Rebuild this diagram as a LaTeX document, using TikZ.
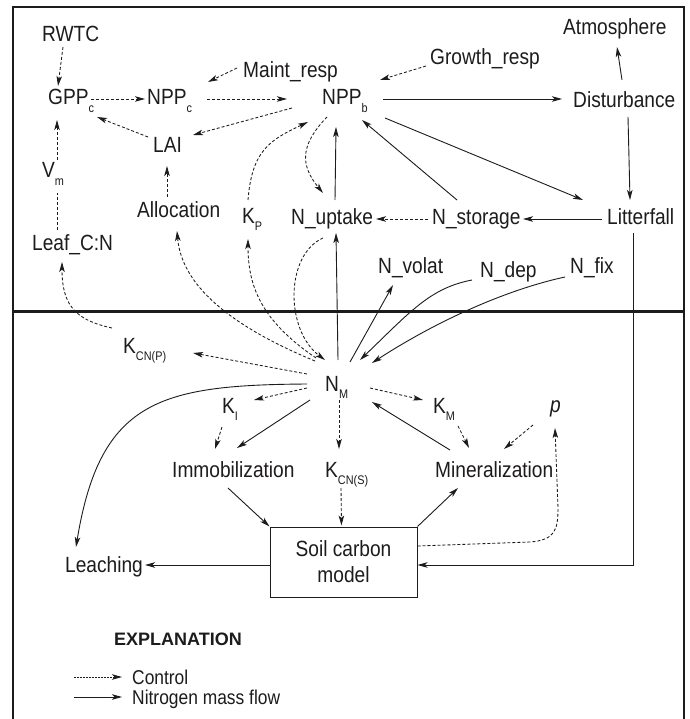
\documentclass[tikz,border=0pt]{standalone}
\usepackage{fontspec}
\setmainfont{Liberation Sans}[FakeStretch=0.87]
\newfontfamily\explfont{Liberation Sans}
\usetikzlibrary{arrows.meta,calc}
\definecolor{ink}{RGB}{30,27,28}
\newcommand{\sbs}[1]{\raisebox{-7.5pt}{\fontsize{12.5}{12.5}\selectfont #1}}
\begin{document}
\begin{tikzpicture}[x=1pt,y=-1pt,
  lbl/.style={anchor=base west,inner sep=0pt,text=ink,font=\fontsize{22}{25}\selectfont},
  flow/.style={color=ink,line width=0.9pt,-{Stealth[length=10pt,width=5.5pt,inset=2.5pt]}},
  ctl/.style={color=ink,line width=0.85pt,dash pattern=on 3pt off 2pt,-{Stealth[length=10pt,width=5.5pt,inset=2.5pt]}},
  ctlline/.style={color=ink,line width=0.85pt,dash pattern=on 3pt off 2pt},
]
\fill[white] (0,0) rectangle (689,719);
\useasboundingbox (0,0) rectangle (689,719);
% frame and ground line
\draw[ink,line width=1.3pt] (13,730) -- (13,7) -- (684,7) -- (684,730);
\draw[ink,line width=3pt] (13,311) -- (684,311);

% nodes
\node[lbl] (rwtc) at (42,42) {RWTC};
\node[lbl] (gppc) at (48,105) {GPP\sbs{c}};
\node[lbl] (nppc) at (147,105) {NPP\sbs{c}};
\node[lbl] (maint) at (243,78) {Maint\_resp};
\node[lbl] (nppb) at (322,105) {NPP\sbs{b}};
\node[lbl] (growth) at (430,65) {Growth\_resp};
\node[lbl] (atm) at (563,35) {Atmosphere};
\node[lbl] (dist) at (573,108) {Disturbance};
\node[lbl] (lai) at (153,153) {LAI};
\node[lbl] (vm) at (42,178) {V\sbs{m}};
\node[lbl] (alloc) at (137,218) {Allocation};
\node[lbl] (kp) at (242,223) {K\sbs{P}};
\node[lbl] (nup) at (291,225) {N\_uptake};
\node[lbl] (nsto) at (432,225) {N\_storage};
\node[lbl] (litter) at (607,225) {Litterfall};
\node[lbl] (leafcn) at (32,250) {Leaf\_C:N};
\node[lbl] (nvolat) at (378,273) {N\_volat};
\node[lbl] (ndep) at (480,277) {N\_dep};
\node[lbl] (nfix) at (570,273) {N\_fix};
\node[lbl] (kcnp) at (123,353) {K\sbs{CN(P)}};
\node[lbl] (nm) at (325,391) {N\sbs{M}};
\node[lbl] (ki) at (222,413) {K\sbs{I}};
\node[lbl] (km) at (433,413) {K\sbs{M}};
\node[lbl] (pp) at (550,412) {\itshape p};
\node[lbl] (immob) at (172,477) {Immobilization};
\node[lbl] (kcns) at (325,477) {K\sbs{CN(S)}};
\node[lbl] (mineral) at (435,477) {Mineralization};
\node[draw=ink,line width=1pt,minimum width=147pt,minimum height=70pt,inner sep=0pt,align=center,text=ink,font=\fontsize{22}{26}\selectfont] (soil) at (343.5,562) {Soil carbon\\model};
\node[lbl] (leach) at (65,572) {Leaching};

% control connectors
\draw[ctl] ($(rwtc.base west)+(21,5)$) -- ($(gppc.base west)+(10,-19)$);
\draw[ctl] ($(gppc.base west)+(43,-6)$) -- ($(nppc.base west)+(-2,-6)$);
\draw[ctl] ($(nppc.base west)+(60,-6)$) -- ($(nppb.base west)+(-35,-6)$);
\draw[ctl] ($(maint.base west)+(-6,-10)$) -- ($(nppc.base west)+(61,-23)$);
\draw[ctl] ($(nppb.base west)+(-30,3)$) -- ($(lai.base west)+(40,-18)$);
\draw[ctl] ($(lai.base west)+(-5,-16)$) -- ($(gppc.base west)+(49,12)$);
\draw[ctlline] ($(leafcn.base west)+(25,-20)$) -- ($(vm.base west)+(15,15)$);
\draw[ctl] ($(vm.base west)+(15,-18)$) -- ($(gppc.base west)+(9,15)$);
\draw[ctl] ($(alloc.base west)+(30,-21)$) -- ($(lai.base west)+(14,13)$);
\draw[ctl] ($(kp.base west)+(6,-23)$) .. controls (252,150) and (270,140) .. ($(nppb.base west)+(-14,17)$);
\draw[ctl] ($(nppb.base west)+(5,12)$) .. controls (300,145) and (300,165) .. ($(nup.base west)+(32,-32)$);
\draw[ctl] ($(nsto.base west)+(-4,-6)$) -- ($(nup.base west)+(85,-6)$);
\draw[ctl] ($(nm.base west)+(-10,-30)$) .. controls (240,330) and (182,290) .. ($(alloc.base west)+(40,13)$);
\draw[ctl] ($(nm.base west)+(-9,-33)$) .. controls (260,320) and (248,285) .. ($(kp.base west)+(6,16)$);
\draw[ctl] ($(nup.base west)+(32,13)$) .. controls (285,255) and (285,330) .. ($(nm.base west)+(0,-31)$);
\draw[ctl] ($(nm.base west)+(-18,-17)$) -- ($(kcnp.base west)+(70,0)$);
\draw[ctl] ($(kcnp.base west)+(-11,-25)$) .. controls (75,320) and (62,305) .. ($(leafcn.base west)+(30,12)$);
\draw[ctl] ($(nm.base west)+(-18,-3)$) -- ($(ki.base west)+(32,-13)$);
\draw[ctl] ($(ki.base west)+(0,14)$) -- ($(immob.base west)+(43,-28)$);
\draw[ctl] ($(nm.base west)+(14,9)$) -- ($(kcns.base west)+(14,-28)$);
\draw[ctl] ($(kcns.base west)+(16,11)$) -- ($(soil.north)+(-2,-1)$);
\draw[ctl] ($(nm.base west)+(45,-3)$) -- ($(km.base west)+(-10,-13)$);
\draw[ctl] ($(km.base west)+(25,13)$) -- ($(mineral.base west)+(34,-29)$);
\draw[ctl] ($(pp.base west)+(-17,13)$) -- ($(mineral.base west)+(69,-28)$);
\draw[ctl] ($(soil.east)+(0,-16)$) -- (530,542) .. controls (555,540) and (558,530) .. (558,508) -- ($(pp.base west)+(5,16)$);
\draw[ctl] ($(growth.base west)+(-4,1)$) -- ($(nppb.base west)+(58,-25)$);

% nitrogen mass flow connectors
\draw[flow] ($(nppb.base west)+(61,-6)$) -- ($(dist.base west)+(-11,-9)$);
\draw[flow] ($(dist.base west)+(49,-28)$) -- ($(atm.base west)+(54,12)$);
\draw[flow] ($(dist.base west)+(55,9)$) -- ($(litter.base west)+(23,-25)$);
\draw[flow] ($(nppb.base west)+(63,13)$) -- ($(litter.base west)+(-24,-25)$);
\draw[flow] ($(nsto.base west)+(25,-25)$) -- ($(nppb.base west)+(40,15)$);
\draw[flow] ($(litter.base west)+(-5,-6)$) -- ($(nsto.base west)+(91,-6)$);
\draw[flow] ($(nup.base west)+(44,-25)$) -- ($(nppb.base west)+(14,22)$);
\draw[flow] ($(nm.base west)+(13,-31)$) -- ($(nup.base west)+(45,8)$);
\draw[flow] ($(nm.base west)+(25,-29)$) -- ($(nvolat.base west)+(15,12)$);
\draw[flow] ($(ndep.base west)+(-8,3)$) .. controls (430,288) and (410,312) .. ($(nm.base west)+(35,-31)$);
\draw[flow] ($(nfix.base west)+(-5,4)$) .. controls (505,290) and (435,322) .. ($(nm.base west)+(47,-28)$);
\draw[flow] ($(nm.base west)+(-18,-7)$) .. controls (160,385) and (100,400) .. ($(leach.base west)+(11,-25)$);
\draw[flow] ($(immob.base west)+(56,11)$) -- (soil.north west);
\draw[flow] (soil.north east) -- ($(mineral.base west)+(23,11)$);
\draw[flow] ($(mineral.base west)+(15,-27)$) -- ($(nm.base west)+(47,11)$);
\draw[flow] ($(nm.base west)+(-15,9)$) -- ($(immob.base west)+(65,-29)$);
\draw[flow] ($(litter.base west)+(26,8)$) |- ($(soil.east)+(0,3)$);
\draw[flow] ($(soil.west)+(0,3)$) -- ($(leach.base west)+(80,-7)$);

% explanation
\node[anchor=base west,inner sep=0pt,text=ink,font=\explfont\bfseries\fontsize{18}{20}\selectfont] (expl) at (114,645) {EXPLANATION};
\node[lbl,font=\fontsize{20}{22}\selectfont] (lgc) at (132,684) {Control};
\node[lbl,font=\fontsize{20}{22}\selectfont] (lgf) at (132,704) {Nitrogen mass flow};
\draw[ctl,dash pattern=on 1.5pt off 1.5pt] ($(lgc.base west)+(-58,-7)$) -- ($(lgc.base west)+(-10,-7)$);
\draw[flow] ($(lgf.base west)+(-58,-7)$) -- ($(lgf.base west)+(-10,-7)$);
\end{tikzpicture}
\end{document}
